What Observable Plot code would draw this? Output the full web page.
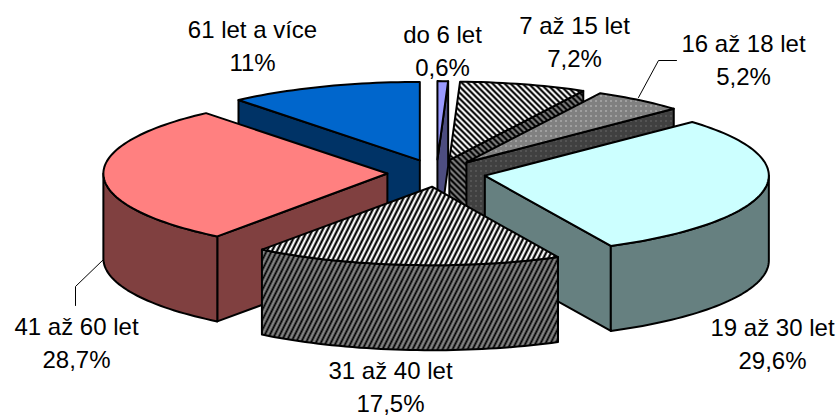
<!DOCTYPE html>
<html>
<head>
<meta charset="utf-8">
<script src="https://cdn.jsdelivr.net/npm/d3@7"></script>
<script src="https://cdn.jsdelivr.net/npm/@observablehq/plot@0.6"></script>
<style>
html,body{margin:0;padding:0;background:#fff}
svg{display:block}
</style>
</head>
<body>
<div id="chart"></div>
<script>
// Data
const categories = ["do 6 let","7 až 15 let","16 až 18 let","19 až 30 let","31 až 40 let","41 až 60 let","61 let a více"];
const shares = [0.6,7.2,5.2,29.6,17.5,28.7,11];

// Look of each slice
const topFills  = ["#9999FF","url(#hatchBack)","url(#dotTop)","#CCFFFF","url(#hatchFront)","#FF8080","#0066CC"];
const sideFills = ["#4D4D80","url(#hatchBackSide)","url(#dotSide)","#668080","url(#hatchFrontSide)","#804040","#003366"];
const paintOrder = [6,0,1,2,5,3,4];

// Layout (pie units: ellipse radius = 1)
const centerPx = [436,172.7], radiusPx = [284,78.5], depthPx = 85, explode = 0.173;
const ux = px => (px-centerPx[0])/radiusPx[0];
const uy = py => (centerPx[1]-py)/radiusPx[1];
const depth = depthPx/radiusPx[1];
const labelCenters = [[442,35],[574,26],[743,44],[772,328],[390,371],[76,327],[252,30]];
const lineGap = 33;
const leaders = [
  {pts:[[638,97],[658,60],[676,60]]},
  {pts:[[103,259],[75,286],[75,305]]}
];

const total = d3.sum(shares);
const rad = d=>d*Math.PI/180;
let cum = 0;
const slices = shares.map((v,i)=>{
  const s = cum/total*360; cum += v; const e = cum/total*360; const m=(s+e)/2;
  return {i,s,e,cx:explode*Math.sin(rad(m)),cy:explode*Math.cos(rad(m))};
});
const pt=(sl,a,drop=0)=>({x:sl.cx+Math.sin(rad(a)),y:sl.cy+Math.cos(rad(a))-drop});
const arc=(sl,a0,a1,drop=0)=>{
  const n=Math.max(2,Math.ceil(Math.abs(a1-a0)/1.5));
  return d3.range(n+1).map(k=>pt(sl,a0+(a1-a0)*k/n,drop));
};
const faces=[];
for(const i of paintOrder){
  const sl=slices[i];
  const apex={x:sl.cx,y:sl.cy}, apexLow={x:sl.cx,y:sl.cy-depth};
  if(Math.sin(rad(sl.s))<0) faces.push({fill:sideFills[i],pts:[apex,pt(sl,sl.s),pt(sl,sl.s,depth),apexLow]});
  if(Math.sin(rad(sl.e))>0) faces.push({fill:sideFills[i],pts:[apex,pt(sl,sl.e),pt(sl,sl.e,depth),apexLow]});
  const r0=Math.max(sl.s,90), r1=Math.min(sl.e,270);
  if(r1>r0) faces.push({fill:sideFills[i],pts:[...arc(sl,r0,r1),...arc(sl,r1,r0,depth)]});
  faces.push({fill:topFills[i],pts:[apex,...arc(sl,sl.s,sl.e)]});
}

// Pixel patterns
function defsMark(){
  const defs=d3.create("svg:defs");
  const make=(id,w,h,bg,fg,on)=>{
    const p=defs.append("pattern").attr("id",id).attr("patternUnits","userSpaceOnUse")
      .attr("width",w).attr("height",h).attr("shape-rendering","crispEdges");
    p.append("rect").attr("width",w).attr("height",h).attr("fill",bg);
    for(let y=0;y<h;y++)for(let x=0;x<w;x++) if(on(x,y))
      p.append("rect").attr("x",x).attr("y",y).attr("width",1).attr("height",1).attr("fill",fg);
  };
  const back=(x,y)=>(x-y+6)%6<3;
  make("hatchBack",6,6,"#fff","#000",back);
  make("hatchBackSide",6,6,"#808080","#000",back);
  make("hatchFront",5,10,"#fff","#000",(x,y)=>(2*x+y)%10<5);
  make("hatchFrontSide",5,10,"#808080","#000",(x,y)=>(2*x+y)%10<4);
  const dot=(x,y)=>x===0&&y===0;
  make("dotTop",5,5,"#808080","#fff",dot);
  make("dotSide",5,5,"#404040","#909090",dot);
  return defs.node();
}

const fmt = v => String(v).replace(".",",")+"%";
const labelData = categories.map((name,i)=>({name,pct:fmt(shares[i]),x:ux(labelCenters[i][0]),y:uy(labelCenters[i][1]),y2:uy(labelCenters[i][1]+lineGap)}));

const plot = Plot.plot({
  width:840,height:416,margin:0,
  x:{domain:[-1,1],range:[centerPx[0]-radiusPx[0],centerPx[0]+radiusPx[0]],axis:null},
  y:{domain:[-1,1],range:[centerPx[1]+radiusPx[1],centerPx[1]-radiusPx[1]],axis:null},
  style:{background:"#fff",fontFamily:"'Liberation Sans',Arial,sans-serif"},
  marks:[
    defsMark,
    ...leaders.map(l=>Plot.line(l.pts.map(p=>({x:ux(p[0]),y:uy(p[1])})),{x:"x",y:"y",stroke:"#000",strokeWidth:1})),
    ...faces.map(f=>Plot.line(f.pts,{x:"x",y:"y",fill:f.fill,stroke:"#000",strokeWidth:2,strokeLinejoin:"round",curve:"linear-closed"})),
    Plot.text(labelData,{x:"x",y:"y",text:"name",fontSize:24,fill:"#000",textAnchor:"middle"}),
    Plot.text(labelData,{x:"x",y:"y2",text:"pct",fontSize:24,fill:"#000",textAnchor:"middle"})
  ]
});
document.getElementById("chart").append(plot);
</script>
</body>
</html>
